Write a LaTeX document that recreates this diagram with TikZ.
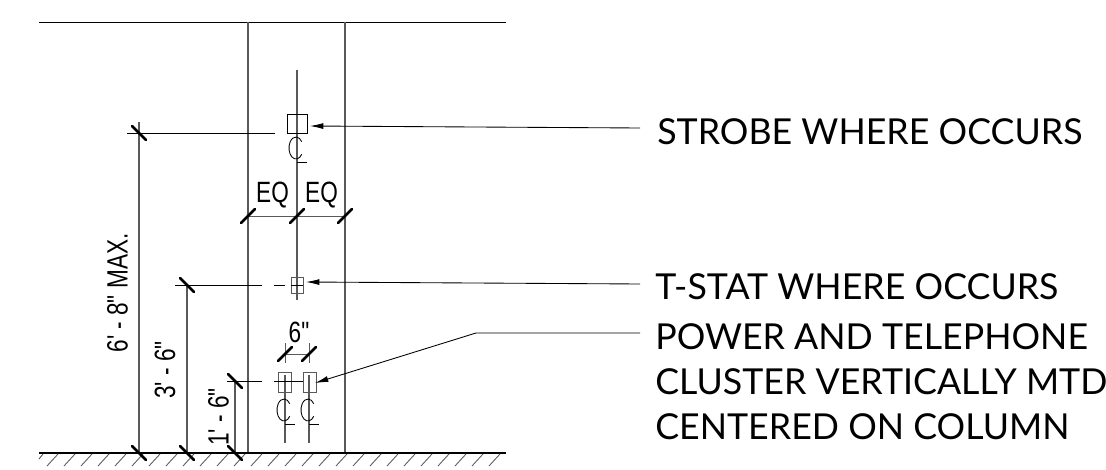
\documentclass[tikz,border=0pt]{standalone}
\usepackage{fontspec}
\usepackage{graphicx}
\usepackage{xcolor}
\usepackage{tikz}
\usetikzlibrary{arrows.meta}
\newfontfamily\notefont{Lato}
\newfontfamily\dimfont{Liberation Sans}
\definecolor{wallgray}{gray}{0.35}
\newcommand{\dimtext}[1]{\scalebox{0.77}[1]{#1}}
\newcommand{\centermark}[2]{%
  \draw[thin line] (#1+4.7,#2+13.3) arc (35:325:7 and 11);
  \draw[thin line] (#1,#2+21) -- (#1+10,#2+21);
}
\tikzset{
  wall/.style = {color = wallgray, line width = 1.1pt},
  thin line/.style = {line width = 0.65pt},
  slash/.style = {line width = 2pt, line cap = round},
  leader/.style = {line width = 0.65pt, -{Latex[length = 10pt, width = 4.5pt]}},
  note/.style = {anchor = base west, inner sep = 0pt, font = \notefont\fontsize{26.8}{30}\selectfont},
  dim/.style = {inner sep = 0pt, font = \dimfont\fontsize{22}{26}\selectfont}
}
\begin{document}
\begin{tikzpicture}[x = 0.75pt, y = -0.75pt]

    \useasboundingbox (0,0) rectangle (1106,470);

    % Floor, column and ceiling
    \draw[thin line] (39,22) -- (506,22);
    \draw[wall] (248,22) -- (248,453);
    \draw[wall] (345,22) -- (345,453);
    \draw[line width = 1.3pt] (39,453) -- (506,453);
    \foreach \x in {58,75,...,500} {
      \draw[thin line, color = wallgray] (\x,454) -- (\x-11,466);
    }
    \draw[thin line, color = wallgray] (43,454) -- (39,459);

    % Center lines
    \draw[wall, line width = 0.9pt] (297,70) -- (297,300);
    \draw[wall, line width = 0.9pt] (285,375) -- (285,443);
    \draw[wall, line width = 0.9pt] (309,375) -- (309,443);

    % Devices
    \draw[thin line] (287,114) rectangle (307,133);
    \draw[thin line, color = wallgray] (291,277) rectangle (303,293);
    \draw[thin line] (291,285) -- (303,285);
    \draw[thin line, color = wallgray] (278,372) rectangle (291,392);
    \draw[thin line, color = wallgray] (303,372) rectangle (316,392);

    \centermark{297}{141}
    \centermark{285}{403}
    \centermark{309}{403}

    % Vertical dimensions
    \draw[thin line] (127,133) -- (275,133);
    \draw[thin line] (175,285) -- (262,285);
    \draw[thin line] (274,285) -- (285,285);
    \draw[thin line] (227,381) -- (262,381);
    \draw[thin line] (274,381) -- (303,381);

    \draw[wall] (139,122) -- (139,453);
    \draw[wall] (187,285) -- (187,453);
    \draw[wall] (235,381) -- (235,453);

    \foreach \x/\y in {139/133, 187/285, 235/381, 139/453, 187/453, 235/453} {
      \draw[slash] (\x-7,\y-7) -- (\x+7,\y+7);
    }

    \node[dim, rotate = 90] (maxdim) at (117.5,293) {\dimtext{6' - 8" MAX.}};
    \node[dim, rotate = 90] (midim) at (165,370) {\dimtext{3' - 6"}};
    \node[dim, rotate = 90] (lowdim) at (218.5,417) {\dimtext{1' - 6"}};

    % Horizontal dimensions
    \draw[thin line, color = wallgray] (248,216) -- (345,216);
    \foreach \x in {248,297,345} {
      \draw[slash] (\x-7,223) -- (\x+7,209);
    }
    \node[dim] (eqleft) at (272.5,195) {\dimtext{EQ}};
    \node[dim] (eqright) at (321.5,195) {\dimtext{EQ}};

    \draw[thin line, color = wallgray] (285,354) -- (309,354);
    \draw[thin line, color = wallgray] (285,343) -- (285,363);
    \draw[thin line, color = wallgray] (309,343) -- (309,363);
    \foreach \x in {285,309} {
      \draw[slash] (\x-7,361) -- (\x+7,347);
    }
    \node[dim] (sixin) at (299,332) {\dimtext{6"}};

    % Notes
    \node[note] (strobe) at (657,145) {STROBE WHERE OCCURS};
    \node[note] (tstat) at (655,300) {T-STAT WHERE OCCURS};
    \node[note] (power) at (655,349) {POWER AND TELEPHONE};
    \node[note] (cluster) at (655,394) {CLUSTER VERTICALLY MTD};
    \node[note] (centered) at (655,439) {CENTERED ON COLUMN};

    \coordinate (strobeend) at (640,128);
    \coordinate (strobetip) at (310,126);
    \coordinate (tstatend) at (640,284);
    \coordinate (tstattip) at (306,282);
    \coordinate (powerend) at (640,333);
    \coordinate (powerbend) at (476,333);
    \coordinate (powertip) at (315,383);

    \draw[leader] (strobeend) -- (strobetip);
    \draw[leader] (tstatend) -- (tstattip);
    \draw[leader] (powerend) -- (powerbend) -- (powertip);

\end{tikzpicture}
\end{document}
